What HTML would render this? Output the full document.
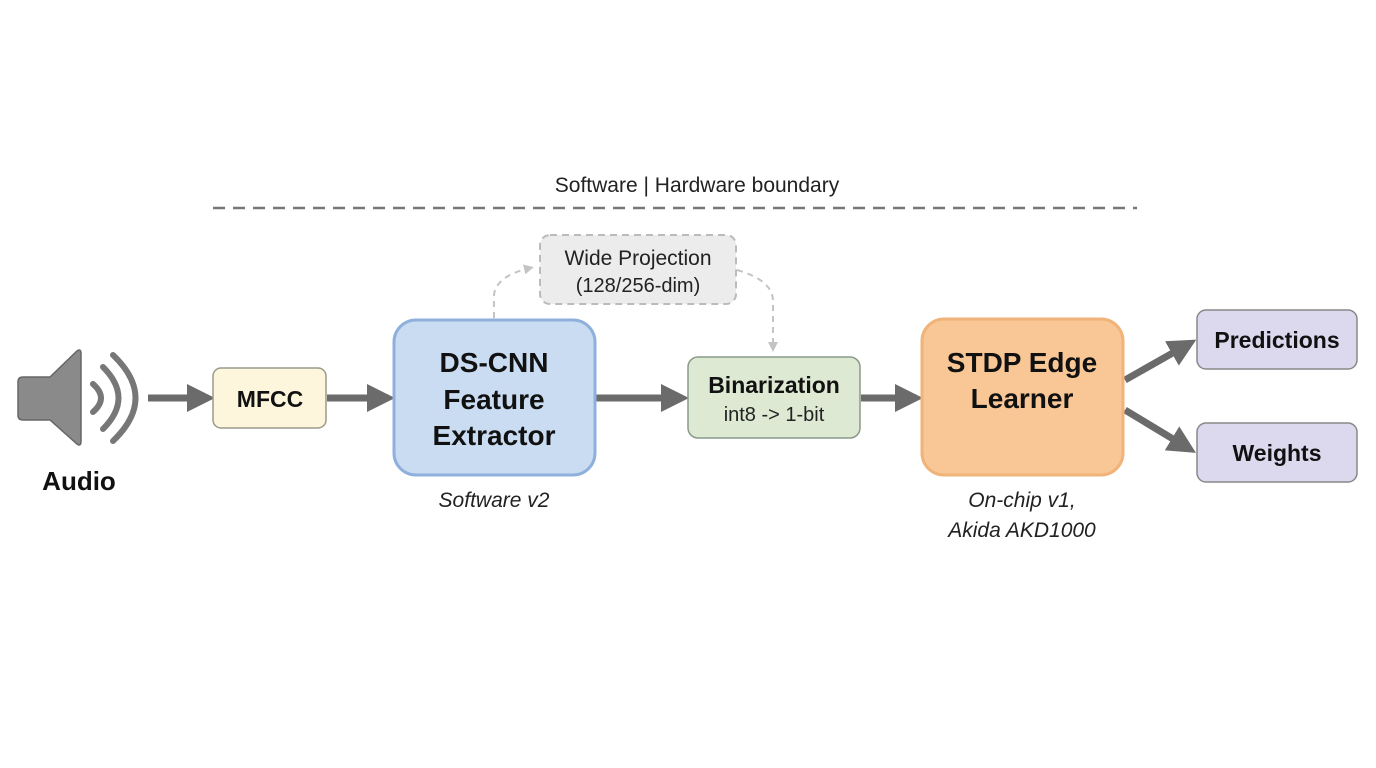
<!DOCTYPE html>
<html><head><meta charset="utf-8"><style>
html,body{margin:0;padding:0;background:#fff;}
svg{display:block;font-family:"Liberation Sans",sans-serif;}
</style></head><body>
<svg width="1376" height="768" viewBox="0 0 1376 768">
<defs>
<marker id="ah" markerWidth="4" markerHeight="4" refX="1" refY="2" orient="auto" markerUnits="strokeWidth"><path d="M0,0 L4,2 L0,4 z" fill="#6b6b6b"/></marker>
<marker id="dh" markerWidth="10" markerHeight="10" refX="6" refY="5" orient="auto" markerUnits="userSpaceOnUse"><path d="M0,0 L10,5 L0,10 z" fill="#c4c4c4"/></marker>
</defs>
<rect width="1376" height="768" fill="#fff"/>
<text x="697" y="192" font-size="21" text-anchor="middle" fill="#222">Software | Hardware boundary</text>
<line x1="213" y1="208" x2="1137" y2="208" stroke="#777" stroke-width="2.5" stroke-dasharray="12,8"/>
<!-- speaker -->
<path d="M23,377 L50,377 L77,351 Q81,348 81,354 L81,441 Q81,447 77,444 L50,420 L23,420 Q18,420 18,415 L18,382 Q18,377 23,377z" fill="#8a8a8a" stroke="#666" stroke-width="1.5"/>
<path d="M93,384 Q109,398 93,412" fill="none" stroke="#777" stroke-width="6" stroke-linecap="round"/>
<path d="M103,367 Q134,398 103,429" fill="none" stroke="#777" stroke-width="6" stroke-linecap="round"/>
<path d="M113,355 Q158,398 113,441" fill="none" stroke="#777" stroke-width="6" stroke-linecap="round"/>
<text x="79" y="490" font-size="26" font-weight="bold" text-anchor="middle" fill="#111">Audio</text>
<!-- arrows -->
<g stroke="#6b6b6b" stroke-width="7" fill="none" marker-end="url(#ah)">
<line x1="148" y1="398" x2="194" y2="398"/>
<line x1="327" y1="398" x2="374" y2="398"/>
<line x1="596" y1="398" x2="668" y2="398"/>
<line x1="861" y1="398" x2="902" y2="398"/>
<line x1="1125" y1="380" x2="1178" y2="350"/>
<line x1="1125" y1="410" x2="1178" y2="442"/>
</g>
<!-- dashed connectors -->
<g stroke="#c4c4c4" stroke-width="2" stroke-dasharray="6,5" fill="none">
<path d="M494,318 L494,295 Q496,276 530,268" marker-end="url(#dh)"/>
<path d="M737,270 Q772,280 773,300 L773,348" marker-end="url(#dh)"/>
</g>
<!-- boxes -->
<rect x="213" y="368" width="113" height="60" rx="8" fill="#fdf6dc" stroke="#9a9a8a" stroke-width="1.5"/>
<text x="270" y="407" font-size="23" font-weight="bold" text-anchor="middle" fill="#111">MFCC</text>
<rect x="394" y="320" width="201" height="155" rx="22" fill="#c9dcf2" stroke="#8fb0dc" stroke-width="3"/>
<g font-size="28" font-weight="bold" text-anchor="middle" fill="#111">
<text x="494" y="372">DS-CNN</text><text x="494" y="409">Feature</text><text x="494" y="445">Extractor</text>
</g>
<text x="494" y="507" font-size="21" font-style="italic" text-anchor="middle" fill="#222">Software v2</text>
<rect x="540" y="235" width="196" height="69" rx="10" fill="#ececec" stroke="#bbb" stroke-width="2" stroke-dasharray="7,5"/>
<text x="638" y="265" font-size="21" text-anchor="middle" fill="#222">Wide Projection</text>
<text x="638" y="292" font-size="20" text-anchor="middle" fill="#222">(128/256-dim)</text>
<rect x="688" y="357" width="172" height="81" rx="10" fill="#dde9d3" stroke="#8a9a8a" stroke-width="1.5"/>
<text x="774" y="393" font-size="23" font-weight="bold" text-anchor="middle" fill="#111">Binarization</text>
<text x="774" y="421" font-size="20" text-anchor="middle" fill="#222">int8 -&gt; 1-bit</text>
<rect x="922" y="319" width="201" height="156" rx="22" fill="#f9c795" stroke="#f0b37a" stroke-width="3"/>
<g font-size="28" font-weight="bold" text-anchor="middle" fill="#111">
<text x="1022" y="372">STDP Edge</text><text x="1022" y="408">Learner</text>
</g>
<text x="1022" y="507" font-size="21" font-style="italic" text-anchor="middle" fill="#222">On-chip v1,</text>
<text x="1022" y="537" font-size="21" font-style="italic" text-anchor="middle" fill="#222">Akida AKD1000</text>
<rect x="1197" y="310" width="160" height="59" rx="9" fill="#dcd8ee" stroke="#888" stroke-width="1.5"/>
<text x="1277" y="348" font-size="23" font-weight="bold" text-anchor="middle" fill="#111">Predictions</text>
<rect x="1197" y="423" width="160" height="59" rx="9" fill="#dcd8ee" stroke="#888" stroke-width="1.5"/>
<text x="1277" y="461" font-size="23" font-weight="bold" text-anchor="middle" fill="#111">Weights</text>
</svg>
</body></html>
